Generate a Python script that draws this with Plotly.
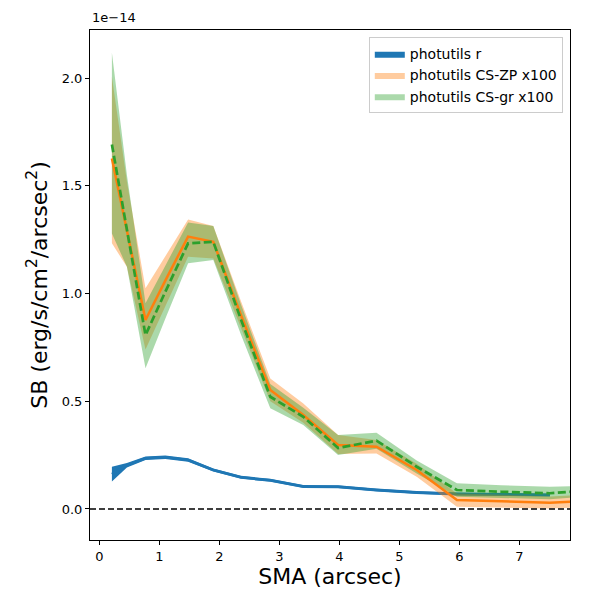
import plotly.graph_objects as go

# SMA grid (arcsec)
sma = [0.21, 0.46, 0.77, 1.10, 1.48, 1.90, 2.36, 2.85, 3.40, 3.98, 4.62, 5.29, 5.96, 6.70, 7.51]
sma_cs = sma + [7.85]

# photutils r  (units of 1e-14 erg/s/cm2/arcsec2)
r_sb = [0.162, 0.203, 0.235, 0.240, 0.227, 0.181, 0.147, 0.133, 0.104, 0.103, 0.088, 0.076, 0.070, 0.068, 0.065]
r_lo = [0.127, 0.193, 0.227, 0.232, 0.219, 0.174, 0.140, 0.126, 0.097, 0.096, 0.081, 0.069, 0.063, 0.061, 0.058]
r_hi = [0.196, 0.213, 0.243, 0.248, 0.235, 0.188, 0.154, 0.140, 0.111, 0.110, 0.095, 0.083, 0.077, 0.075, 0.072]

# photutils CS-ZP x100
zp_sb = [1.627, 1.286, 0.877, 1.060, 1.264, 1.240, 0.900, 0.552, 0.436, 0.297, 0.289, 0.181, 0.042, 0.036, 0.029, 0.034]
zp_lo = [1.233, 1.124, 0.740, 0.943, 1.171, 1.163, 0.840, 0.500, 0.400, 0.255, 0.258, 0.150, 0.010, 0.006, 0.002, 0.006]
zp_hi = [2.006, 1.520, 1.024, 1.170, 1.344, 1.313, 0.965, 0.606, 0.490, 0.343, 0.320, 0.210, 0.072, 0.066, 0.058, 0.062]

# photutils CS-gr x100
gr_sb = [1.692, 1.290, 0.807, 1.008, 1.233, 1.240, 0.880, 0.521, 0.428, 0.283, 0.317, 0.196, 0.088, 0.080, 0.073, 0.080]
gr_lo = [1.279, 1.124, 0.653, 0.883, 1.140, 1.155, 0.810, 0.467, 0.390, 0.250, 0.280, 0.165, 0.057, 0.050, 0.045, 0.052]
gr_hi = [2.117, 1.550, 0.955, 1.130, 1.329, 1.313, 0.950, 0.580, 0.470, 0.343, 0.354, 0.225, 0.119, 0.110, 0.103, 0.105]

BLUE = "#1f77b4"; ORANGE = "#ff7f0e"; GREEN = "#2ca02c"
FONT = "DejaVu Sans"


def band(x, lo, hi, color, name):
    return go.Scatter(x=x + x[::-1], y=hi + lo[::-1], fill="toself", fillcolor=color,
                      line=dict(width=0), mode="lines", name=name, hoverinfo="skip")


fig = go.Figure()
fig.add_trace(band(sma, r_lo, r_hi, BLUE, "photutils r"))
fig.add_trace(go.Scatter(x=sma, y=r_sb, mode="lines", line=dict(color=BLUE, width=2.5),
                         showlegend=False))
fig.add_trace(band(sma_cs, zp_lo, zp_hi, "rgba(255,127,14,0.4)", "photutils CS-ZP x100"))
fig.add_trace(band(sma_cs, gr_lo, gr_hi, "rgba(44,160,44,0.4)", "photutils CS-gr x100"))
fig.add_trace(go.Scatter(x=sma_cs, y=zp_sb, mode="lines", line=dict(color=ORANGE, width=2.5),
                         showlegend=False))
fig.add_trace(go.Scatter(x=sma_cs, y=gr_sb, mode="lines",
                         line=dict(color=GREEN, width=2.7, dash="8px,3.5px"), showlegend=False))

fig.add_shape(type="line", xref="paper", x0=0, x1=1, yref="y", y0=0, y1=0,
              line=dict(color="black", width=1.5, dash="6px,3px"))

fig.add_annotation(text="1e\u221214", xref="paper", yref="paper", x=0, y=1, xanchor="left",
                   yanchor="bottom", yshift=3, showarrow=False,
                   font=dict(family=FONT, size=13, color="black"))

axis = dict(showline=True, linecolor="black", linewidth=1, mirror=True, ticks="outside",
            ticklen=4, tickcolor="black", showgrid=False, zeroline=False,
            tickfont=dict(family=FONT, size=13, color="black"))
fig.update_xaxes(range=[-0.155, 7.845], tickvals=[0, 1, 2, 3, 4, 5, 6, 7],
                 title=dict(text="SMA (arcsec)", font=dict(family=FONT, size=22, color="black"),
                            standoff=5), **axis)
fig.update_yaxes(range=[-0.144, 2.223], tickvals=[0, 0.5, 1.0, 1.5, 2.0], tickformat=".1f",
                 title=dict(text="SB (erg/s/cm<sup>2</sup>/arcsec<sup>2</sup>)",
                            font=dict(family=FONT, size=22, color="black"), standoff=8), **axis)

# page body has an 8px margin, so shift the plot area up/left by that much
fig.update_layout(
    width=600, height=600,
    margin=dict(l=82, r=38, t=22, b=68),
    paper_bgcolor="white", plot_bgcolor="white",
    font=dict(family=FONT, color="black"),
    legend=dict(x=0.985, y=0.986, xanchor="right", yanchor="top",
                bgcolor="rgba(255,255,255,0.8)", bordercolor="#cccccc", borderwidth=1,
                font=dict(family=FONT, size=14, color="black"), tracegroupgap=0),
)

fig.write_html("out.html")
